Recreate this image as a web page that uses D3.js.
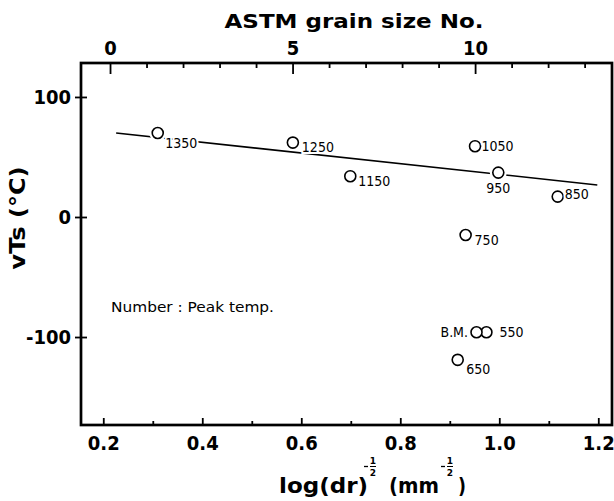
<!DOCTYPE html>
<html>
<head>
<meta charset="UTF-8">
<script src="https://d3js.org/d3.v7.min.js"></script>
<style>
  body { margin: 0; background: #fff; }
  text { fill: #000; }
</style>
</head>
<body>
<svg width="614" height="501"></svg>
<script>
// points: peak temperature label, log(dr)^-1/2, vTs
var peakTemp = ["1350", "1250", "1150", "1050", "950", "850", "750", "650", "550", "B.M."];
var grainX   = [0.310, 0.583, 0.699, 0.951, 0.998, 1.118, 0.932, 0.916, 0.974, 0.954];
var vTs      = [70, 62, 34, 59, 37, 17, -15, -119, -96, -96];

// fitted line end points
var fitX = [0.226, 1.198];
var fitY = [70, 26.7];

// axis ticks
var xMajor = [0.2, 0.4, 0.6, 0.8, 1.0, 1.2];
var xMinor = [0.3, 0.5, 0.7, 0.9, 1.1];
var yMajor = [-100, 0, 100];
var astmMajor = [0, 5, 10];
var astmMinor = [1, 2, 3, 4, 6, 7, 8, 9, 11, 12, 13];

// where each label sits relative to its circle
var labelPos = {
  "1350": {dx: 7.5, dy: 10, a: "start"},
  "1250": {dx: 9, dy: 4, a: "start"},
  "1150": {dx: 8, dy: 5, a: "start"},
  "1050": {dx: 6.5, dy: 0, a: "start"},
  "950":  {dx: 0, dy: 15, a: "middle"},
  "850":  {dx: 7, dy: -3, a: "start"},
  "750":  {dx: 9, dy: 5, a: "start"},
  "650":  {dx: 8.5, dy: 9, a: "start"},
  "550":  {dx: 13, dy: 0, a: "start"},
  "B.M.": {dx: -8.5, dy: 0, a: "end"}
};

var L = 81, R = 612, T = 63, B = 425;
var x = d3.scaleLinear().domain([0.155, 1.2277]).range([L, R]);
var y = d3.scaleLinear().domain([-173.3, 128.3]).range([B, T]);
var g = d3.scaleLinear().domain([-0.795, 13.75]).range([L, R]);

var svg = d3.select("svg");
var tickFont = '"Liberation Sans Narrow", "DejaVu Sans Condensed", sans-serif';

function styleAxis(sel) {
  sel.select(".domain").remove();
  sel.selectAll(".tick line").attr("stroke", "#000").attr("stroke-width", 1.8);
  sel.selectAll(".tick text")
    .style("font-family", tickFont).style("font-size", "20px").style("font-weight", "bold");
}

// bottom axis
svg.append("g").attr("transform", "translate(0," + B + ")")
  .call(d3.axisBottom(x).tickValues(xMajor).tickSize(-7).tickPadding(11).tickFormat(d3.format(".1f")))
  .call(styleAxis);
svg.append("g").attr("transform", "translate(0," + B + ")")
  .call(d3.axisBottom(x).tickValues(xMinor).tickSize(-4).tickFormat(""))
  .call(styleAxis);

// top axis (ASTM grain size)
svg.append("g").attr("transform", "translate(0," + T + ")")
  .call(d3.axisTop(g).tickValues(astmMajor).tickSize(-11).tickPadding(8))
  .call(styleAxis);
svg.append("g").attr("transform", "translate(0," + T + ")")
  .call(d3.axisTop(g).tickValues(astmMinor).tickSize(-5).tickFormat(""))
  .call(styleAxis);

// left axis
svg.append("g").attr("transform", "translate(" + L + ",0)")
  .call(d3.axisLeft(y).tickValues(yMajor).tickSize(6).tickPadding(4)
    .tickFormat(function(d) { return String(d); }))
  .call(styleAxis)
  .selectAll(".tick line").attr("x1", 6);

// frame
svg.append("rect").attr("x", L).attr("y", T).attr("width", R - L).attr("height", B - T)
  .attr("fill", "none").attr("stroke", "#000").attr("stroke-width", 2.7);

// fitted line
var line = d3.line().x(function(d) { return x(d[0]); }).y(function(d) { return y(d[1]); });
svg.append("path").datum(d3.zip(fitX, fitY)).attr("d", line)
  .attr("fill", "none").attr("stroke", "#000").attr("stroke-width", 1.6);

var pts = peakTemp.map(function(t, i) { return {t: t, x: grainX[i], v: vTs[i]}; });

// white gaps around circles
svg.append("g").selectAll("circle").data(pts).enter().append("circle")
  .attr("cx", function(d) { return x(d.x); }).attr("cy", function(d) { return y(d.v); })
  .attr("r", 8.5).attr("fill", "#fff");

svg.append("g").selectAll("circle").data(pts).enter().append("circle")
  .attr("cx", function(d) { return x(d.x); }).attr("cy", function(d) { return y(d.v); })
  .attr("r", 5.5).attr("fill", "#fff").attr("stroke", "#000").attr("stroke-width", 1.6);

svg.append("g").selectAll("text").data(pts).enter().append("text")
  .attr("x", function(d) { return x(d.x) + labelPos[d.t].dx; })
  .attr("y", function(d) { return y(d.v) + labelPos[d.t].dy; })
  .attr("dy", "0.36em")
  .attr("text-anchor", function(d) { return labelPos[d.t].a; })
  .style("font-family", '"DejaVu Sans Condensed", sans-serif').style("font-size", "14px")
  .style("paint-order", "stroke").style("stroke", "#fff").style("stroke-width", 4)
  .text(function(d) { return d.t; });

// note
svg.append("text").attr("x", 111).attr("y", 312)
  .style("font-family", '"DejaVu Sans", sans-serif').style("font-size", "13.5px")
  .attr("textLength", 163).attr("lengthAdjust", "spacingAndGlyphs")
  .text("Number : Peak temp.");

// axis titles
svg.append("text").attr("x", 354).attr("y", 28).attr("text-anchor", "middle")
  .style("font-family", '"DejaVu Sans", sans-serif').style("font-size", "19px").style("font-weight", "bold")
  .attr("textLength", 259).attr("lengthAdjust", "spacingAndGlyphs")
  .text("ASTM grain size No.");

svg.append("text").attr("transform", "translate(25,218) rotate(-90)").attr("text-anchor", "middle")
  .style("font-family", '"DejaVu Sans", sans-serif').style("font-size", "21px").style("font-weight", "bold")
  .attr("textLength", 103).attr("lengthAdjust", "spacingAndGlyphs")
  .text("vTs (°C)");

var xt = svg.append("g")
  .style("font-family", '"DejaVu Sans", sans-serif').style("font-weight", "bold");
function piece(tx, x0, len, size) {
  xt.append("text").attr("x", x0).attr("y", 493).style("font-size", size + "px")
    .attr("textLength", len).attr("lengthAdjust", "spacingAndGlyphs").text(tx);
}
function half(cx) {
  xt.append("line").attr("x1", cx - 9).attr("x2", cx - 5).attr("y1", 466.5).attr("y2", 466.5)
    .attr("stroke", "#000").attr("stroke-width", 1.3);
  xt.append("line").attr("x1", cx - 3).attr("x2", cx + 3).attr("y1", 466.5).attr("y2", 466.5)
    .attr("stroke", "#000").attr("stroke-width", 1);
  xt.append("text").attr("x", cx).attr("y", 464).attr("text-anchor", "middle").style("font-size", "9px").text("1");
  xt.append("text").attr("x", cx).attr("y", 475.5).attr("text-anchor", "middle").style("font-size", "9px").text("2");
}
piece("log(dr)", 279, 89, 21);
half(373);
piece("(mm", 389, 50, 21);
half(450);
piece(")", 458, 8, 21);
</script>
</body>
</html>
